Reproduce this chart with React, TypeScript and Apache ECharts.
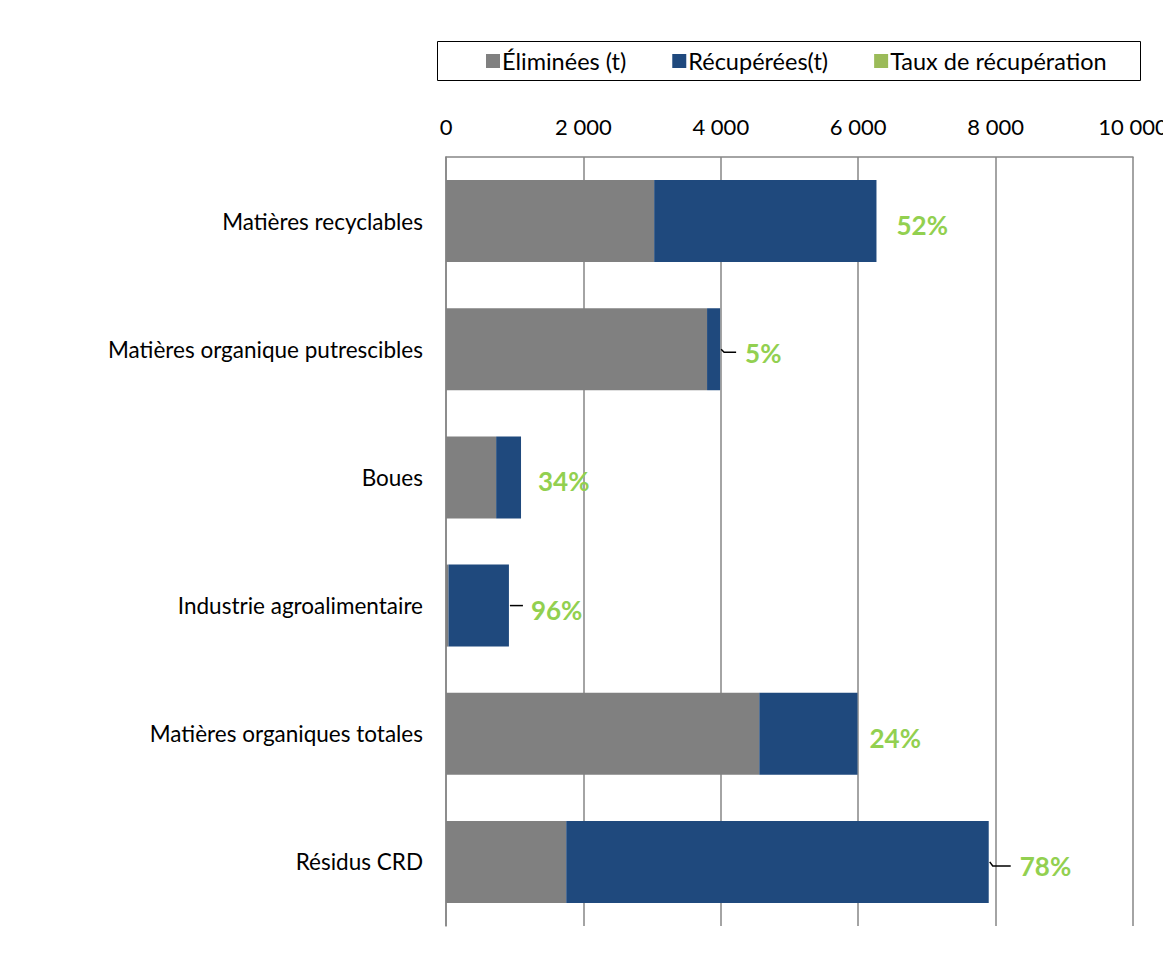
import React, { useEffect, useRef } from "react";
import * as echarts from "echarts";

const categories = [
  "Matières recyclables",
  "Matières organique putrescibles",
  "Boues",
  "Industrie agroalimentaire",
  "Matières organiques totales",
  "Résidus CRD",
];
const eliminees = [3030, 3800, 730, 36, 4560, 1750];
const recuperees = [3236, 190, 362, 880, 1430, 6150];
const tauxRecuperation = [52, 5, 34, 96, 24, 78];
const xTicks = { min: 0, max: 10000, interval: 2000 };

// label placement (style only): dx = text offset from bar end, leader = leader-line end, hook = drop at start
const labelLayout = [
  { dx: 20, leader: 0, hook: 0 },
  { dx: 25, leader: 16, hook: 3 },
  { dx: 17, leader: 0, hook: 0 },
  { dx: 22, leader: 14, hook: 0 },
  { dx: 12, leader: 0, hook: 0 },
  { dx: 31, leader: 22, hook: 4 },
];

const FONT = "Lato, 'Noto Sans', sans-serif";

const fmt = (v: number) => String(v).replace(/\B(?=(\d{3})+(?!\d))/g, " ");

export default function App() {
  const ref = useRef<HTMLDivElement>(null);
  useEffect(() => {
    if (!ref.current) return;
    const chart = echarts.init(ref.current, null, { renderer: "svg" });
    const totals = eliminees.map((e, i) => e + recuperees[i]);
    chart.setOption({
      animation: false,
      textStyle: { fontFamily: FONT },
      graphic: [
        {
          type: "rect",
          shape: { x: 429.5, y: 33.5, width: 703, height: 39 },
          style: { fill: "#fff", stroke: "#000", lineWidth: 1 },
          z: -1,
        },
      ],
      legend: {
        left: 473,
        top: 36,
        itemWidth: 14,
        itemHeight: 14,
        itemGap: 46,
        icon: "rect",
        textStyle: { fontSize: 23.5, color: "#000", fontFamily: FONT, padding: [0, 0, 0, -3] },
        data: [
          { name: "Éliminées (t)" },
          { name: "Récupérées(t)" },
          { name: "Taux de récupération" },
        ],
      },
      grid: {
        left: 438,
        right: 38,
        top: 149,
        bottom: 32,
        containLabel: false,
        outerBoundsMode: "none",
      },
      xAxis: {
        type: "value",
        position: "top",
        min: xTicks.min,
        max: xTicks.max,
        interval: xTicks.interval,
        axisLine: { show: true, lineStyle: { color: "#868686", width: 1.5 } },
        axisTick: { show: false },
        splitLine: { show: true, lineStyle: { color: "#868686", width: 1.5 } },
        axisLabel: {
          formatter: (v: number) => fmt(v),
          fontSize: 22,
          color: "#000",
          margin: 20,
          fontFamily: FONT,
        },
      },
      yAxis: {
        type: "category",
        inverse: true,
        data: categories,
        axisLine: { show: true, lineStyle: { color: "#868686", width: 1.5 } },
        axisTick: { show: false },
        axisLabel: { fontSize: 22.5, color: "#000", margin: 23, fontFamily: FONT },
      },
      series: [
        {
          name: "Éliminées (t)",
          type: "bar",
          stack: "total",
          barCategoryGap: "36%",
          itemStyle: { color: "#808080" },
          data: eliminees,
        },
        {
          name: "Récupérées(t)",
          type: "bar",
          stack: "total",
          barCategoryGap: "36%",
          itemStyle: { color: "#1F497D" },
          data: recuperees,
        },
        {
          name: "Taux de récupération",
          type: "custom",
          itemStyle: { color: "#9BBB59" },
          encode: { x: 0, y: 1 },
          data: totals.map((t, i) => [t, i]),
          z: 5,
          renderItem: (params: any, api: any) => {
            const i = params.dataIndex;
            const p = api.coord([api.value(0), api.value(1)]);
            const lay = labelLayout[i];
            const children: any[] = [];
            if (lay.leader) {
              const pts = lay.hook
                ? [
                    [p[0] + 1, p[1]],
                    [p[0] + 4, p[1] + lay.hook],
                    [p[0] + lay.leader, p[1] + lay.hook],
                  ]
                : [
                    [p[0] + 1, p[1]],
                    [p[0] + lay.leader, p[1]],
                  ];
              children.push({
                type: "polyline",
                shape: { points: pts },
                style: { stroke: "#000", lineWidth: 1.5, fill: null },
              });
            }
            children.push({
              type: "text",
              x: p[0] + lay.dx,
              y: p[1] + 4,
              style: {
                text: tauxRecuperation[i] + "%",
                fill: "#92D050",
                font: `bold 26px ${FONT}`,
                align: "left",
                verticalAlign: "middle",
              },
            });
            return { type: "group", children };
          },
        },
      ],
    });
    return () => chart.dispose();
  }, []);
  return <div ref={ref} style={{ width: 1163, height: 950 }} />;
}
